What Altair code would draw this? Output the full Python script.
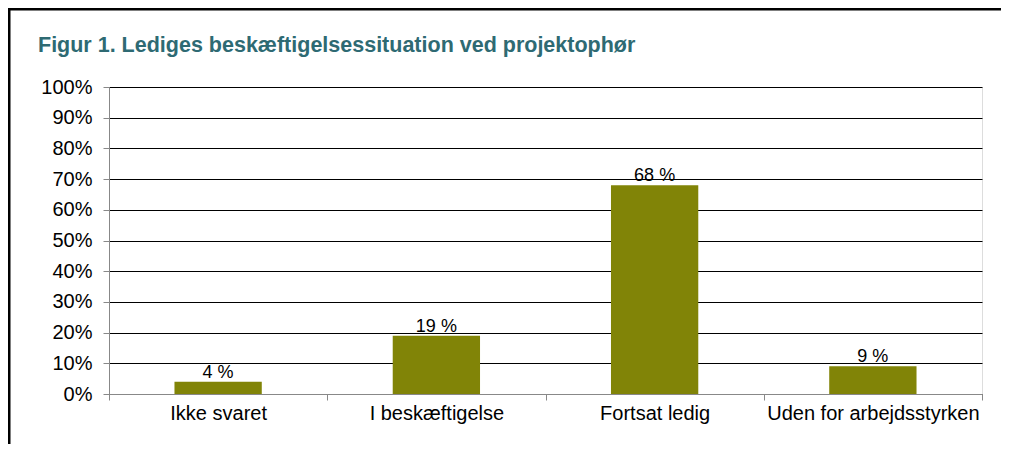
import altair as alt
import pandas as pd

categories = ["Ikke svaret", "I beskæftigelse", "Fortsat ledig", "Uden for arbejdsstyrken"]
values = [4, 19, 68, 9]
labels = ["4 %", "19 %", "68 %", "9 %"]
y_ticks = [0, 10, 20, 30, 40, 50, 60, 70, 80, 90, 100]
title_text = "Figur 1. Lediges beskæftigelsessituation ved projektophør"

df = pd.DataFrame({"cat": categories, "val": values, "lab": labels})

FONT = "Liberation Sans"
BAR = "#818407"

x = alt.X("cat:N", sort=categories, title=None,
          scale=alt.Scale(paddingInner=0, paddingOuter=0),
          axis=alt.Axis(labelAngle=0, labelFontSize=20, labelFont=FONT, labelColor="#000000",
                        tickBand="extent", tickColor="#888888", tickSize=6, domainColor="#888888",
                        labelPadding=3, grid=False, labelLimit=0, labelOverlap=False))
y = alt.Y("val:Q", title=None,
          scale=alt.Scale(domain=[0, 100], nice=False),
          axis=alt.Axis(values=y_ticks, labelExpr="datum.value + '%'", labelFontSize=20,
                        labelFont=FONT, labelColor="#000000", tickColor="#888888", tickSize=6,
                        labelPadding=11, domainColor="#888888", gridColor="#000000",
                        gridWidth=1, grid=True, labelOverlap=False))

bars = alt.Chart(df).mark_bar(color=BAR, width=alt.RelativeBandSize(0.4)).encode(x=x, y=y)
text = alt.Chart(df).mark_text(font=FONT, fontSize=18, color="#000000", baseline="alphabetic", dy=-4).encode(
    x=x, y=y, text="lab:N")

frame = alt.Chart(pd.DataFrame({"f": [0]})).mark_rect(
    fillOpacity=0, stroke="#000000", strokeWidth=3).encode(
    x=alt.value(-100), x2=alt.value(1000), y=alt.value(-78), y2=alt.value(1000))

title = alt.Chart(pd.DataFrame({"t": [title_text]})).mark_text(
    font=FONT, fontSize=21.5, fontWeight="bold", color="#2E6A73", align="left", baseline="alphabetic").encode(
    x=alt.value(-71), y=alt.value(-35), text="t:N")

chart = alt.layer(frame, bars, text, title).properties(
    width=873, height=307,
    autosize=alt.AutoSizeParams(type="none"),
    padding={"left": 101, "top": 79, "right": 19, "bottom": 50},
).configure_view(stroke="#888888", strokeWidth=1).configure(background="#ffffff")

chart.save("out.html", embed_options={"renderer": "svg", "actions": False})
